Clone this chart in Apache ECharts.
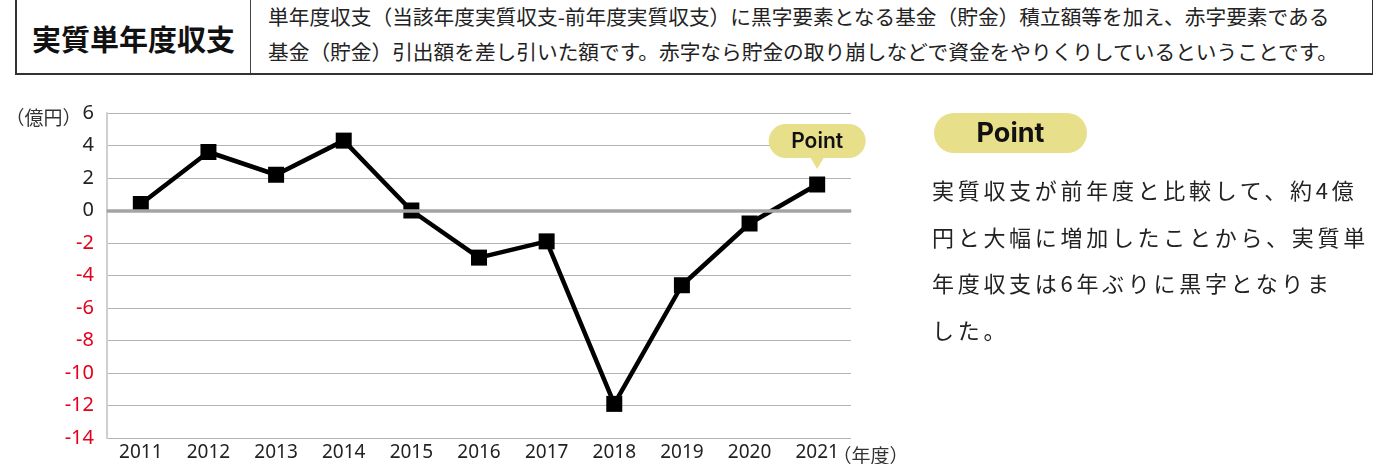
<!DOCTYPE html>
<html>
<head>
<meta charset="utf-8">
<script src="https://cdn.jsdelivr.net/npm/echarts@6/dist/echarts.min.js"></script>
<style>
  body { margin: 0; background: #fff; font-family: "Noto Sans CJK JP", "Noto Sans", sans-serif; color: #222; }
  #wrap { position: relative; width: 1373px; height: 464px; overflow: hidden; }
  #head { position: absolute; left: 15px; top: -3px; width: 1355px; height: 74px; border: 2px solid #333; box-sizing: content-box; }
  #headTitle { position: absolute; left: 0; top: 0; width: 234px; height: 74px; border-right: 1.5px solid #444;
    font-size: 29px; font-weight: bold; line-height: 74px; text-align: center; color: #111; padding-top: 2px; box-sizing: border-box; }
  #headText { position: absolute; left: 251px; top: 0; font-size: 20.7px; line-height: 35px; color: #222; white-space: nowrap; }
  .h { font-feature-settings: "halt"; }
  #chart { position: absolute; left: 0; top: 0; width: 1373px; height: 464px; }
  .lbl { position: absolute; font-size: 19px; color: #333; white-space: nowrap; line-height: 20px; }
  #badge { position: absolute; left: 934px; top: 113px; width: 153px; height: 40px; border-radius: 20px; background: #e8df8b;
    font-family: Inter, "Noto Sans", sans-serif; font-weight: 700; font-size: 27px; line-height: 40px; text-align: center; color: #111; }
  #note { position: absolute; left: 932px; top: 166px; font-size: 22px; line-height: 46.5px; letter-spacing: 3.7px; color: #222; white-space: nowrap; }
</style>
</head>
<body>
<div id="wrap">
  <div id="head">
    <div id="headTitle">実質単年度収支</div>
    <div id="headText">単年度収支（当該年度実質収支-前年度実質収支）に黒字要素となる基金（貯金）積立額等を加え、赤字要素である<br>基金（貯金）引出額を差し引いた額です。赤字なら貯金の取り崩しなどで資金をやりくりしているということです。</div>
  </div>
  <div id="chart"></div>
  <div class="lbl" style="left:15px;top:107px;"><span class="h">（</span>億円<span class="h">）</span></div>
  <div class="lbl" style="left:842px;top:445px;"><span class="h">（</span>年度<span class="h">）</span></div>
  <div id="badge">Point</div>
  <div id="note">実質収支が前年度と比較して、約4億<br>円と大幅に増加したことから、実質単<br>年度収支は6年ぶりに黒字となりま<br>した。</div>
</div>
<script>
  // 年度と実質単年度収支（億円）
  var years = ['2011', '2012', '2013', '2014', '2015', '2016', '2017', '2018', '2019', '2020', '2021']
  var balance = [0.4, 3.6, 2.2, 4.3, 0.0, -2.9, -1.9, -11.9, -4.6, -0.8, 1.6]
  var yTicks = { min: -14, max: 6, step: 2 }

  // 吹き出し（角丸＋下向きの三角）
  var bubblePath = 'path://M17,0 L80,0 A17,17 0 0 1 80,34 L55,34 L48.5,45 L42,34 L17,34 A17,17 0 0 1 17,0 Z'

  var myChart = echarts.init(document.getElementById('chart'))
  var option = {
    animation: false,
    grid: { left: 107, right: 522, top: 113, bottom: 26 },
    xAxis: {
      type: 'category',
      data: years,
      boundaryGap: true,
      axisLine: { lineStyle: { color: '#a8a8a8', width: 1.5 } },
      axisTick: { inside: true, length: 8, alignWithLabel: true, lineStyle: { color: '#c0c0c0', width: 1.5 } },
      axisLabel: { margin: 5, fontSize: 19, color: '#222', fontFamily: 'Noto Sans' }
    },
    yAxis: {
      type: 'value',
      min: yTicks.min,
      max: yTicks.max,
      interval: yTicks.step,
      axisLine: { show: true, lineStyle: { color: '#cfcfcf', width: 2 } },
      axisTick: { show: false },
      splitLine: { lineStyle: { color: '#b4b4b4', width: 1 } },
      axisLabel: {
        margin: 13,
        fontSize: 20,
        fontFamily: 'Noto Sans',
        color: function (v) { return v < 0 ? '#e2001a' : '#222' }
      }
    },
    series: [
      {
        // ゼロの基準線
        type: 'line',
        data: [],
        z: 1,
        silent: true,
        markLine: {
          silent: true,
          symbol: 'none',
          label: { show: false },
          lineStyle: { color: '#a4a4a4', width: 3.5, type: 'solid' },
          data: [{ yAxis: 0 }]
        }
      },
      {
        name: '実質単年度収支',
        type: 'line',
        data: balance,
        z: 3,
        symbol: 'rect',
        symbolSize: 16,
        itemStyle: { color: '#000' },
        lineStyle: { color: '#000', width: 4.5 },
        markPoint: {
          symbol: bubblePath,
          symbolSize: [97, 45],
          symbolOffset: [0, -38],
          itemStyle: { color: '#e8df8b' },
          label: {
            show: true,
            formatter: 'Point',
            offset: [0, -5],
            fontFamily: 'Inter',
            fontWeight: 600,
            fontSize: 21,
            color: '#111'
          },
          data: [{ coord: [years.length - 1, balance[balance.length - 1]] }]
        }
      }
    ]
  }
  myChart.setOption(option)
</script>
</body>
</html>
